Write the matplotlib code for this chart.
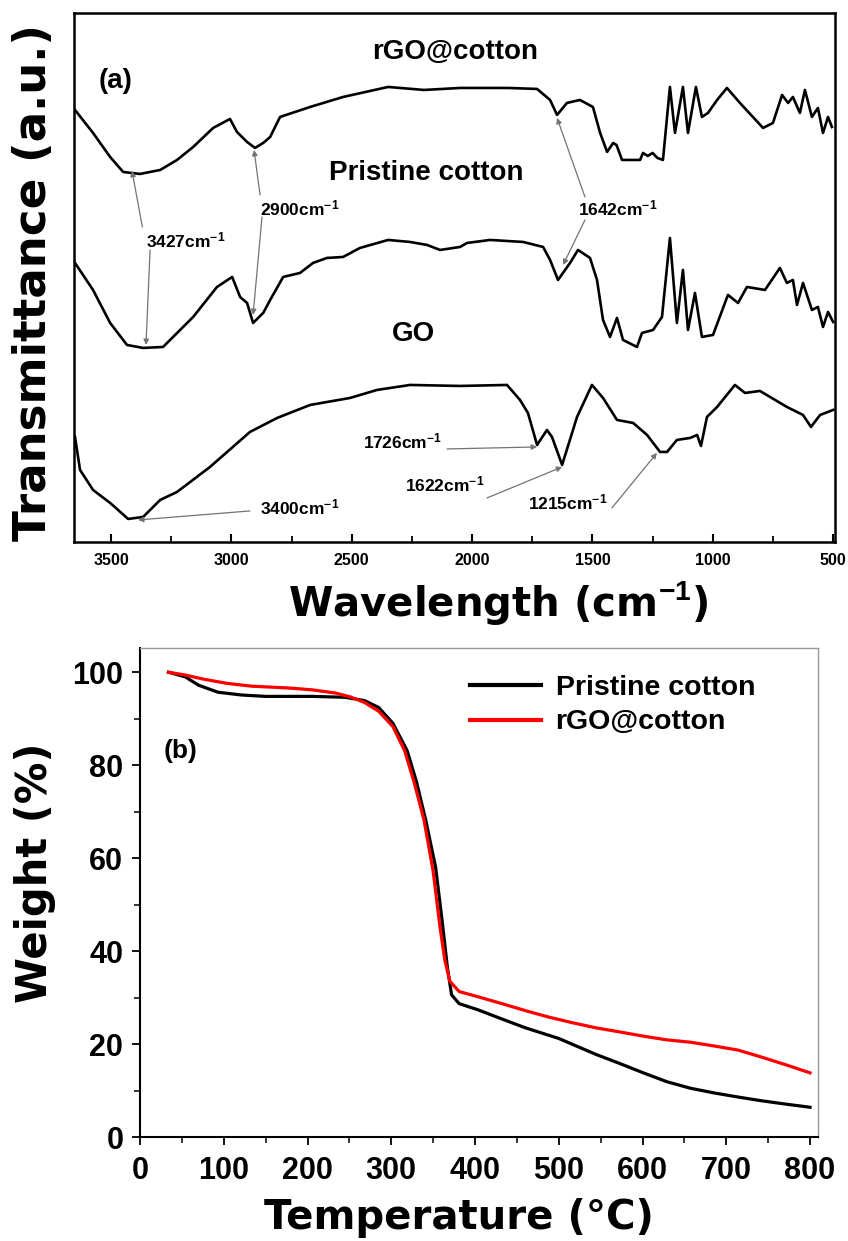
import matplotlib
matplotlib.use("Agg")
import matplotlib.pyplot as plt
import numpy as np
from matplotlib.ticker import MultipleLocator

plt.rcParams["font.family"] = ["Liberation Sans", "DejaVu Sans"]
plt.rcParams["mathtext.fontset"] = "custom"
plt.rcParams["mathtext.rm"] = "Liberation Sans:bold"
plt.rcParams["mathtext.bf"] = "Liberation Sans:bold"
plt.rcParams["mathtext.default"] = "rm"

# ---- (a) FTIR spectra, transmittance in a.u. (curves offset as in the figure)
rgo_wn = [3650, 3575, 3504, 3450, 3380, 3296, 3226, 3159, 3076, 3006, 2977, 2935, 2902,
          2868, 2839, 2798, 2673, 2536, 2349, 2200, 2050, 1850, 1730, 1676, 1647,
          1606, 1552, 1498, 1468, 1439, 1414, 1400, 1377, 1340, 1302, 1290, 1270,
          1250, 1230, 1207, 1178, 1157, 1124, 1103, 1070, 1045, 1020, 982, 941,
          887, 791, 750, 712, 687, 667, 638, 617, 588, 563, 542, 521, 505]
rgo_t = [4.32, 4.09, 3.85, 3.70, 3.68, 3.72, 3.82, 3.95, 4.14, 4.23, 4.10, 4.00, 3.94,
         3.99, 4.05, 4.25, 4.35, 4.45, 4.55, 4.52, 4.54, 4.54, 4.53, 4.42, 4.27,
         4.39, 4.42, 4.35, 4.09, 3.90, 3.99, 3.97, 3.82, 3.82, 3.82, 3.89, 3.86,
         3.89, 3.84, 3.82, 4.55, 4.09, 4.55, 4.09, 4.55, 4.25, 4.29, 4.42, 4.54,
         4.39, 4.14, 4.19, 4.47, 4.39, 4.45, 4.29, 4.52, 4.25, 4.34, 4.09, 4.25, 4.15]

pri_wn = [3650, 3575, 3504, 3434, 3367, 3284, 3159, 3060, 2997, 2964, 2935, 2910,
          2868, 2839, 2785, 2715, 2661, 2603, 2536, 2466, 2349, 2258, 2187, 2133,
          2050, 2021, 1925, 1788, 1705, 1676, 1643, 1593, 1560, 1510, 1481, 1456,
          1427, 1398, 1373, 1315, 1294, 1248, 1211, 1178, 1149, 1124, 1103, 1074,
          1045, 999, 937, 895, 858, 783, 721, 692, 667, 650, 625, 588, 563, 542,
          521, 500]
pri_t = [2.79, 2.52, 2.19, 1.97, 1.94, 1.95, 2.25, 2.55, 2.65, 2.45, 2.39, 2.19,
         2.29, 2.42, 2.65, 2.69, 2.79, 2.84, 2.85, 2.94, 3.02, 3.00, 2.97, 2.92,
         2.95, 2.99, 3.02, 3.00, 2.95, 2.82, 2.62, 2.79, 2.92, 2.84, 2.62, 2.22,
         2.05, 2.24, 2.02, 1.95, 2.09, 2.12, 2.25, 3.04, 2.19, 2.72, 2.12, 2.49,
         2.05, 2.07, 2.47, 2.39, 2.55, 2.52, 2.74, 2.59, 2.62, 2.37, 2.59, 2.32,
         2.35, 2.15, 2.30, 2.20]

go_wn = [3650, 3629, 3575, 3504, 3429, 3367, 3296, 3226, 3089, 2923, 2810, 2673,
         2507, 2395, 2258, 2050, 1855, 1801, 1768, 1730, 1689, 1668, 1626, 1564,
         1502, 1456, 1398, 1331, 1273, 1219, 1190, 1149, 1094, 1065, 1049, 1024,
         982, 908, 866, 804, 692, 625, 592, 554, 500]
go_t = [1.05, 0.72, 0.52, 0.39, 0.23, 0.25, 0.42, 0.50, 0.75, 1.10, 1.24, 1.37,
        1.44, 1.52, 1.57, 1.56, 1.57, 1.42, 1.29, 0.97, 1.12, 1.05, 0.77, 1.25,
        1.57, 1.44, 1.22, 1.19, 1.07, 0.90, 0.90, 1.02, 1.04, 1.07, 0.96, 1.25,
        1.35, 1.57, 1.49, 1.51, 1.35, 1.27, 1.15, 1.27, 1.32]

# peak labels: (text, text pos, list of (tail, head))
peak_labels = [
    ("3427", (3192, 3.02), [((3370, 3.15), (3413, 3.71)), ((3338, 2.92), (3355, 1.97))]),
    ("2900", (2715, 3.34), [((2881, 3.47), (2906, 3.92)), ((2873, 3.25), (2910, 2.27))]),
    ("1642", (1394, 3.34), [((1531, 3.45), (1647, 4.24)), ((1531, 3.22), (1622, 2.77))]),
    ("1726", (2291, 1.00), [((2104, 0.93), (1730, 0.95))]),
    ("1622", (2112, 0.57), [((1938, 0.44), (1626, 0.75))]),
    ("1215", (1601, 0.39), [((1419, 0.34), (1232, 0.89))]),
    ("3400", (2715, 0.34), [((2923, 0.31), (3388, 0.22))]),
]
curve_names = [("rGO@cotton", (2070, 4.90)), ("Pristine cotton", (2190, 3.69)), ("GO", (2243, 2.08))]

# ---- (b) TGA
temp_pri = [34, 54, 70, 93, 121, 150, 206, 245, 268, 285, 302, 319, 330, 341, 353,
            361, 367, 372, 381, 403, 432, 460, 500, 544, 573, 601, 629, 657, 685,
            714, 742, 770, 800]
w_pri = [100, 99.0, 97.2, 95.7, 95.1, 94.8, 94.8, 94.6, 93.9, 92.4, 89.0, 83.1,
         76.5, 68.3, 58.0, 46.1, 36.5, 30.6, 28.7, 27.4, 25.4, 23.5, 21.2, 17.8,
         15.8, 13.8, 11.9, 10.5, 9.5, 8.6, 7.8, 7.1, 6.4]
temp_rgo = [34, 54, 76, 104, 133, 178, 206, 234, 251, 268, 285, 302, 316, 327, 339,
            350, 358, 364, 370, 381, 403, 432, 460, 488, 516, 544, 573, 601, 629,
            657, 685, 714, 742, 770, 800]
w_rgo = [100, 99.4, 98.5, 97.6, 97.0, 96.6, 96.2, 95.5, 94.7, 93.5, 91.6, 88.3,
         83.1, 76.5, 68.3, 57.2, 45.4, 38.0, 33.5, 31.3, 30.2, 28.7, 27.2, 25.8,
         24.6, 23.5, 22.6, 21.7, 20.9, 20.4, 19.6, 18.7, 17.2, 15.6, 13.8]

fig = plt.figure(figsize=(8.48, 12.41), dpi=100)
ax1 = fig.add_axes([0.0873, 0.5633, 0.8974, 0.4265])
ax2 = fig.add_axes([0.1651, 0.0838, 0.7995, 0.3940])

# panel a
for wn, t in [(rgo_wn, rgo_t), (pri_wn, pri_t), (go_wn, go_t)]:
    ax1.plot(wn, t, color="black", lw=1.9)
ax1.set_xlim(3654, 492)
ax1.set_ylim(0, 5.293)
ax1.set_yticks([])
ax1.xaxis.set_major_locator(MultipleLocator(500))
ax1.xaxis.set_minor_locator(MultipleLocator(250))
ax1.tick_params(axis="x", which="major", direction="in", length=6, width=1.5, pad=8, labelsize=11.5)
ax1.tick_params(axis="x", which="minor", direction="in", length=4, width=1.3)
for lab in ax1.get_xticklabels():
    lab.set_fontweight("bold")
for s in ax1.spines.values():
    s.set_linewidth(1.8)

for num, tpos, arrows in peak_labels:
    ax1.text(tpos[0], tpos[1], num + r"cm$^{-1}$", fontsize=12.5, fontweight="bold",
             ha="center", va="center")
    for tail, head in arrows:
        ax1.annotate("", xy=head, xytext=tail,
                     arrowprops=dict(arrowstyle="-|>", color="0.45", lw=0.9,
                                     mutation_scale=8, shrinkA=0, shrinkB=0))
for name, pos in curve_names:
    ax1.text(pos[0], pos[1], name, fontsize=20, fontweight="bold", ha="center", va="center")
ax1.text(0.055, 0.87, "(a)", transform=ax1.transAxes, fontsize=20, fontweight="bold",
         ha="center", va="center")
ax1.set_xlabel(r"Wavelength (cm$^{-1}$)", fontsize=29, fontweight="bold",
               family="DejaVu Sans", va="center")
ax1.xaxis.set_label_coords(0.557, -0.115)
ax1.set_ylabel("Transmittance (a.u.)", fontsize=32.5, fontweight="bold",
               family="DejaVu Sans", va="center")
ax1.yaxis.set_label_coords(-0.053, 0.49)

# panel b
ax2.plot(temp_pri, w_pri, color="black", lw=2.3, label="Pristine cotton")
ax2.plot(temp_rgo, w_rgo, color="#ff0000", lw=2.3, label="rGO@cotton")
ax2.set_xlim(0, 809.5)
ax2.set_ylim(0, 105.2)
ax2.xaxis.set_major_locator(MultipleLocator(100))
ax2.xaxis.set_minor_locator(MultipleLocator(50))
ax2.yaxis.set_major_locator(MultipleLocator(20))
ax2.yaxis.set_minor_locator(MultipleLocator(10))
ax2.tick_params(which="major", direction="out", length=6, width=1.3, labelsize=22)
ax2.tick_params(which="minor", direction="out", length=4, width=1.1)
ax2.tick_params(axis="x", pad=8)
ax2.tick_params(axis="y", pad=6)
for lab in ax2.get_xticklabels() + ax2.get_yticklabels():
    lab.set_fontweight("bold")
ax2.spines["left"].set_linewidth(1.5)
ax2.spines["bottom"].set_linewidth(1.5)
for k in ["top", "right"]:
    ax2.spines[k].set_color("0.6")
    ax2.spines[k].set_linewidth(1.0)
leg = ax2.legend(loc="upper left", bbox_to_anchor=(0.487, 0.945), frameon=False,
                 prop=dict(weight="bold", size=20.5), handlelength=2.5,
                 handletextpad=0.5, labelspacing=0.3, borderpad=0, borderaxespad=0)
for line in leg.get_lines():
    line.set_linewidth(3)
ax2.text(0.06, 0.79, "(b)", transform=ax2.transAxes, fontsize=19, fontweight="bold",
         ha="center", va="center")
ax2.set_xlabel("Temperature (°C)", fontsize=29, fontweight="bold",
               family="DejaVu Sans", va="center")
ax2.xaxis.set_label_coords(0.470, -0.166)
ax2.set_ylabel("Weight (%)", fontsize=30, fontweight="bold",
               family="DejaVu Sans", va="center")
ax2.yaxis.set_label_coords(-0.155, 0.54)

fig.savefig("out.png", dpi=100)
